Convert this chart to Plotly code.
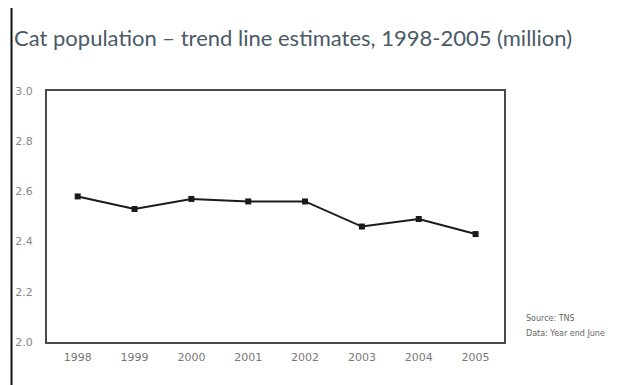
import plotly.graph_objects as go

years = [1998, 1999, 2000, 2001, 2002, 2003, 2004, 2005]
cats_million = [2.58, 2.53, 2.57, 2.56, 2.56, 2.46, 2.49, 2.43]
y_ticks = [2.0, 2.2, 2.4, 2.6, 2.8, 3.0]
y_tick_labels = ["2.0", "2.2", "2.4", "2.6", "2.8", "3.0"]
title_text = "Cat population \u2013 trend line estimates, 1998-2005 (million)"
source_lines = ["Source: TNS", "Data: Year end June"]

fig = go.Figure()
fig.add_trace(go.Scatter(
    x=years, y=cats_million, mode="lines+markers",
    line=dict(color="#1a1a1a", width=2),
    marker=dict(symbol="square", size=6, color="#1a1a1a"),
    showlegend=False, hoverinfo="skip",
))

font_fam = "Lato, 'DejaVu Sans', sans-serif"
tick_fam = "'DejaVu Sans', sans-serif"

fig.update_layout(
    width=632, height=385,
    margin=dict(l=47, r=128, t=91, b=43),
    paper_bgcolor="white", plot_bgcolor="white",
    xaxis=dict(
        range=[1997.46, 2005.5], tickvals=years, ticktext=[str(y) for y in years],
        showgrid=False, zeroline=False, showline=True, mirror=True,
        linecolor="#4a4a4a", linewidth=2, ticks="",
        tickfont=dict(family=tick_fam, size=11, color="#777777"),
        ticklabelstandoff=4,
    ),
    yaxis=dict(
        range=[2.0, 3.0], tickvals=y_ticks, ticktext=y_tick_labels,
        showgrid=False, zeroline=False, showline=True, mirror=True,
        linecolor="#4a4a4a", linewidth=2, ticks="",
        tickfont=dict(family=tick_fam, size=11, color="#888888"),
        ticklabelstandoff=10,
    ),
    font=dict(family=font_fam),
)

plot_w = 632 - 47 - 128
plot_h = 385 - 91 - 43

fig.add_annotation(
    x=(12 - 47) / plot_w, y=(385 - 43 - 38) / plot_h,
    xref="paper", yref="paper", text=title_text, showarrow=False,
    xanchor="left", yanchor="middle",
    font=dict(family=font_fam, size=22, color="#4a5a66"),
)

for i, line in enumerate(source_lines):
    fig.add_annotation(
        x=(524 - 47) / plot_w, y=(385 - 43 - (318 + 15 * i)) / plot_h,
        xref="paper", yref="paper", text=line, showarrow=False,
        xanchor="left", yanchor="middle",
        font=dict(family=tick_fam, size=8, color="#666666"),
    )

# left vertical border line
fig.add_shape(
    type="line", xref="paper", yref="paper",
    x0=(11.5 - 47) / plot_w, x1=(11.5 - 47) / plot_w,
    y0=(385 - 43 - 385) / plot_h, y1=(385 - 43 - 8) / plot_h,
    line=dict(color="#111111", width=2),
)

fig.write_html("out.html")
